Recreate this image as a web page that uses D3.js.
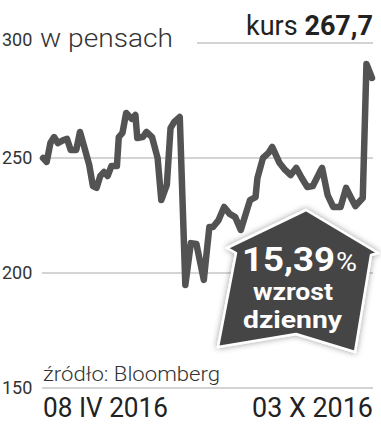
<!DOCTYPE html>
<html>
<head>
<meta charset="utf-8">
<script src="https://d3js.org/d3.v7.min.js"></script>
<style>
  body { margin: 0; background: #fff; }
  text { font-family: Roboto, "Open Sans", sans-serif; }
</style>
</head>
<body>
<div id="chart"></div>
<script>
// days after 08 IV 2016 and price in pence
var dayOffsets = [0, 2, 4, 6, 8, 11, 13, 15, 18, 20, 22, 25, 27, 29, 31, 33, 35, 37, 40, 41,
  43, 45, 48, 50, 51, 54, 56, 59, 62, 64, 67, 69, 71, 74, 77, 80, 83, 87, 90, 92,
  95, 98, 101, 104, 107, 109, 112, 115, 116, 119, 122, 124, 128, 131, 134, 137, 140, 143, 146, 150,
  151, 154, 157, 161, 164, 167, 169, 173, 175, 178];
var prices = [250.0, 248.3, 256.5, 259.1, 256.5, 257.8, 258.3, 253.5, 253.5, 261.3, 255.7, 247.0, 237.8, 237.0, 242.2, 243.9, 242.2, 246.5, 246.5, 259.1,
  260.9, 269.6, 267.0, 268.7, 258.7, 259.1, 261.3, 259.1, 250.0, 231.7, 238.3, 263.0, 265.7, 267.8, 194.8, 213.0, 212.6, 197.0, 220.0, 220.0,
  223.0, 228.7, 225.7, 224.3, 218.7, 223.9, 231.7, 233.0, 241.3, 250.0, 252.2, 254.8, 247.8, 244.8, 242.6, 245.7, 241.3, 237.4, 237.8, 244.3,
  245.7, 233.9, 228.7, 228.7, 237.0, 232.2, 229.1, 232.6, 290.9, 284.8];
var yTicks = [150, 200, 250, 300];
var dateLabels = ["08 IV 2016", "03 X 2016"];
var unitLabel = "w pensach";
var lastPrice = "267,7";
var dailyChange = "15,39";
var badgeLines = ["wzrost", "dzienny"];
var source = "źródło: Bloomberg";

var W = 381, H = 425;
var startDate = new Date(2016, 3, 8);
var endDate = new Date(2016, 9, 3);

var data = dayOffsets.map(function(d, i) {
  return { date: d3.timeDay.offset(startDate, d), value: prices[i] };
});

var x = d3.scaleTime().domain([startDate, endDate]).range([43, 372]);
var y = d3.scaleLinear().domain([150, 300]).range([388, 43]);

var svg = d3.select("#chart").append("svg")
  .attr("width", W)
  .attr("height", H);

var defs = svg.append("defs");
var glow = defs.append("filter").attr("id", "glow")
  .attr("x", "-20%").attr("y", "-20%").attr("width", "140%").attr("height", "140%");
glow.append("feDropShadow")
  .attr("dx", 0).attr("dy", 0)
  .attr("stdDeviation", 3)
  .attr("flood-color", "#000")
  .attr("flood-opacity", 0.4);

// grid
svg.append("g").selectAll("line")
  .data(yTicks)
  .enter()
  .append("line")
  .attr("x1", function(d) { return d == 300 ? 197 : 42; })
  .attr("x2", 373)
  .attr("y1", function(d) { return y(d); })
  .attr("y2", function(d) { return y(d); })
  .attr("stroke", "#a8a8a8")
  .attr("stroke-width", 1);

// tick labels
svg.append("g").selectAll("text")
  .data(yTicks)
  .enter()
  .append("text")
  .attr("x", 2)
  .attr("y", function(d) { return d == 300 ? y(d) - 3 : y(d); })
  .attr("dy", "0.36em")
  .attr("font-size", 18)
  .attr("fill", "#333")
  .text(function(d) { return d; });

svg.append("text")
  .attr("x", 40).attr("y", 47)
  .attr("font-size", 26)
  .attr("font-weight", 300)
  .attr("fill", "#333")
  .attr("textLength", 133)
  .attr("lengthAdjust", "spacingAndGlyphs")
  .text(unitLabel);

// last price
var kurs = svg.append("text")
  .attr("x", 373).attr("y", 35)
  .attr("text-anchor", "end")
  .attr("font-size", 27)
  .attr("fill", "#222");
kurs.append("tspan").text("kurs ");
kurs.append("tspan").attr("font-weight", "bold").text(lastPrice);

// price line
var line = d3.line()
  .x(function(d) { return x(d.date); })
  .y(function(d) { return y(d.value); });

svg.append("path")
  .datum(data)
  .attr("d", line)
  .attr("fill", "none")
  .attr("stroke", "#535353")
  .attr("stroke-width", 6.5)
  .attr("stroke-linejoin", "round")
  .attr("stroke-linecap", "round");

// badge
var badge = svg.append("g").attr("transform", "translate(306,210)");
var shape = [[0, 0], [72, 43], [65, 45], [49, 142], [-10, 124], [-88, 137], [-70, 43], [-79, 38]];
badge.append("path")
  .attr("d", "M" + shape.join("L") + "Z")
  .attr("fill", "#454545")
  .attr("stroke", "#fff")
  .attr("stroke-width", 2.5)
  .attr("stroke-linejoin", "round")
  .attr("filter", "url(#glow)");

var badgeText = svg.append("text")
  .attr("fill", "#fff")
  .attr("font-weight", "bold");
badgeText.append("tspan")
  .attr("x", 242).attr("y", 271)
  .attr("font-size", 33)
  .attr("textLength", 93)
  .attr("lengthAdjust", "spacingAndGlyphs")
  .text(dailyChange);
badgeText.append("tspan")
  .attr("x", 336).attr("y", 271)
  .attr("font-size", 26)
  .attr("font-weight", "normal")
  .attr("textLength", 21)
  .attr("lengthAdjust", "spacingAndGlyphs")
  .text("%");
badgeText.append("tspan")
  .attr("x", 253).attr("y", 300)
  .attr("font-size", 24)
  .attr("textLength", 80)
  .attr("lengthAdjust", "spacingAndGlyphs")
  .text(badgeLines[0]);
badgeText.append("tspan")
  .attr("x", 243).attr("y", 328)
  .attr("font-size", 24)
  .attr("textLength", 99)
  .attr("lengthAdjust", "spacingAndGlyphs")
  .text(badgeLines[1]);

// source
svg.append("text")
  .attr("x", 43).attr("y", 381)
  .attr("font-size", 20)
  .attr("font-weight", 300)
  .attr("fill", "#333")
  .attr("textLength", 177)
  .attr("lengthAdjust", "spacingAndGlyphs")
  .text(source);

// dates
svg.append("text")
  .attr("x", x(startDate)).attr("y", 417)
  .attr("font-size", 28)
  .attr("fill", "#222")
  .attr("textLength", 125)
  .attr("lengthAdjust", "spacingAndGlyphs")
  .text(dateLabels[0]);
svg.append("text")
  .attr("x", x(endDate) + 1).attr("y", 417)
  .attr("text-anchor", "end")
  .attr("font-size", 28)
  .attr("fill", "#222")
  .attr("textLength", 121)
  .attr("lengthAdjust", "spacingAndGlyphs")
  .text(dateLabels[1]);
</script>
</body>
</html>
